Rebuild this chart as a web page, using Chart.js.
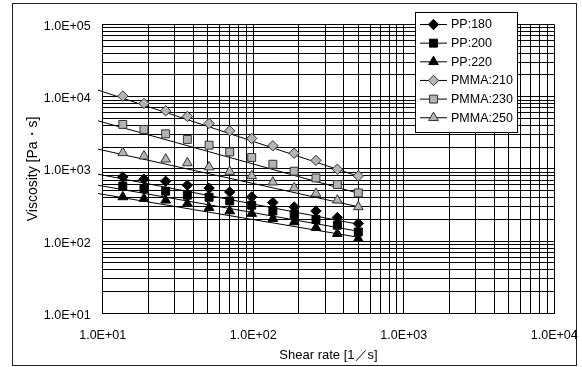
<!DOCTYPE html>
<html>
<head>
<meta charset="utf-8">
<script src="https://cdn.jsdelivr.net/npm/chart.js@4.4.1/dist/chart.umd.min.js"></script>
<style>
  html, body { margin: 0; padding: 0; background: #fff; }
</style>
</head>
<body>
<canvas id="chart" width="582" height="367"></canvas>
<script>
// shear rate [1/s] (same for all runs)
const shearRate = [13.6, 18.8, 26.2, 36.5, 50.9, 69.8, 97.7, 135, 187, 261, 362, 499];

// viscosity [Pa·s]
const pp180   = [774, 720, 675, 594, 540, 480, 409, 342, 297, 261, 212, 175];
const pp200   = [581, 535, 491, 432, 405, 360, 314, 261, 235, 199, 166, 134];
const pp220   = [409, 388, 368, 331, 290, 261, 241, 205, 184, 154, 127, 108];
const pmma210 = [10200, 8070, 6370, 5330, 4260, 3370, 2640, 2090, 1650, 1310, 990, 800];
const pmma230 = [4130, 3520, 3060, 2560, 2130, 1720, 1440, 1160, 929, 750, 608, 465];
const pmma250 = [1670, 1500, 1360, 1210, 1060, 921, 800, 654, 545, 456, 368, 298];

// trend lines (power fit), start and end
const trendX       = [9.31, 499];
const trendPP180   = [845, 171];
const trendPP200   = [594, 137];
const trendPP220   = [456, 113];
const trendPMMA210 = [12350, 792];
const trendPMMA230 = [4630, 460];
const trendPMMA250 = [1877, 299];

const seriesNames = ['PP:180', 'PP:200', 'PP:220', 'PMMA:210', 'PMMA:230', 'PMMA:250'];

// gridlines at 1..9 x 10^n
const yDecades = [10, 100, 1000, 10000];
const xDecades = [10, 100, 1000];
const multipliers = [1, 2, 3, 4, 5, 6, 7, 8, 9];
const yTicks = yDecades.flatMap(d => multipliers.map(m => m * d)).concat([100000]);
const xTicks = xDecades.flatMap(d => multipliers.map(m => m * d)).concat([10000]);

const FONT = "'Liberation Sans', Arial, sans-serif";
const GRAY = '#b4b4b4';

const styles = [
  { pointStyle: 'rectRot',  radius: 5.2, bg: '#000', border: '#000' },
  { pointStyle: 'rect',     radius: 5.6, bg: '#000', border: '#000' },
  { pointStyle: 'triangle', radius: 5.6, bg: '#000', border: '#000' },
  { pointStyle: 'rectRot',  radius: 5.2, bg: GRAY,   border: '#333' },
  { pointStyle: 'rect',     radius: 5.6, bg: GRAY,   border: '#333' },
  { pointStyle: 'triangle', radius: 5.6, bg: GRAY,   border: '#333' },
];

const values = [pp180, pp200, pp220, pmma210, pmma230, pmma250];
const trends = [trendPP180, trendPP200, trendPP220, trendPMMA210, trendPMMA230, trendPMMA250];

const datasets = [];
values.forEach((v, i) => {
  const s = styles[i];
  datasets.push({
    label: seriesNames[i],
    data: shearRate.map((x, k) => ({ x: x, y: v[k] })),
    showLine: false,
    pointStyle: s.pointStyle,
    pointRadius: s.radius,
    pointBackgroundColor: s.bg,
    pointBorderColor: s.border,
    pointBorderWidth: 1,
    order: 0
  });
});
trends.forEach((t, i) => {
  datasets.push({
    label: seriesNames[i] + ' trend',
    data: trendX.map((x, k) => ({ x: x, y: t[k] })),
    showLine: true,
    borderColor: '#000',
    borderWidth: 1,
    pointRadius: 0,
    clip: false,
    order: 1
  });
});

function sciLabel(v) {
  const e = Math.log10(v);
  const r = Math.round(e);
  if (Math.abs(e - r) > 1e-9) return '';
  return '1.0E+' + String(r).padStart(2, '0');
}

function markerPath(ctx, style, r, x, y) {
  ctx.beginPath();
  if (style === 'rectRot') {
    ctx.moveTo(x, y - r); ctx.lineTo(x + r, y); ctx.lineTo(x, y + r); ctx.lineTo(x - r, y);
  } else if (style === 'rect') {
    const s = Math.SQRT1_2 * r;
    ctx.rect(x - s, y - s, 2 * s, 2 * s);
  } else {
    const h = r * Math.sqrt(3) / 2;
    ctx.moveTo(x, y - r); ctx.lineTo(x + h, y + r / 2); ctx.lineTo(x - h, y + r / 2);
  }
  ctx.closePath();
}

const framePlugin = {
  id: 'frame',
  beforeDraw(chart) {
    const ctx = chart.ctx;
    ctx.save();
    ctx.fillStyle = '#fff';
    ctx.fillRect(0, 0, chart.width, chart.height);
    ctx.strokeStyle = '#222';
    ctx.lineWidth = 1;
    ctx.strokeRect(12.5, 3.5, 564, 362);
    ctx.restore();
  },
  afterDraw(chart) {
    const ctx = chart.ctx;
    ctx.save();
    ctx.fillStyle = '#fff';
    ctx.fillRect(415.5, 12.5, 102, 120);
    ctx.strokeStyle = '#000';
    ctx.lineWidth = 1;
    ctx.strokeRect(415.5, 12.5, 102, 120);
    ctx.font = '12.5px ' + FONT;
    ctx.textBaseline = 'middle';
    seriesNames.forEach((name, i) => {
      const y = 24.5 + i * 18.65;
      const s = styles[i];
      ctx.strokeStyle = '#000';
      ctx.beginPath();
      ctx.moveTo(420, y); ctx.lineTo(447, y);
      ctx.stroke();
      markerPath(ctx, s.pointStyle, s.radius, 433.5, y);
      ctx.fillStyle = s.bg;
      ctx.fill();
      ctx.strokeStyle = s.border;
      ctx.stroke();
      ctx.fillStyle = '#000';
      ctx.fillText(name, 451, y + 0.5);
    });
    ctx.restore();
  }
};

new Chart(document.getElementById('chart'), {
  type: 'scatter',
  data: { datasets: datasets },
  plugins: [framePlugin],
  options: {
    responsive: false,
    animation: false,
    layout: { padding: { left: 0, right: 27.7, top: 24.5, bottom: 0 } },
    plugins: { legend: { display: false }, tooltip: { enabled: false } },
    scales: {
      x: {
        type: 'logarithmic',
        min: 10, max: 10000,
        afterBuildTicks: s => { s.ticks = xTicks.map(v => ({ value: v })); },
        afterFit: s => { s.height = 53.7; s.paddingLeft = 0; s.paddingRight = 0; },
        grid: { color: '#000', lineWidth: 1, drawTicks: false },
        border: { display: true, color: '#000', width: 1 },
        ticks: {
          autoSkip: false, maxRotation: 0, padding: 15,
          color: '#000', font: { family: FONT, size: 12.5 },
          callback: v => sciLabel(v)
        },
        title: {
          display: true, text: 'Shear rate [1／s]', color: '#000',
          font: { family: FONT, size: 13 }, padding: { top: 0, bottom: 4 }
        }
      },
      y: {
        type: 'logarithmic',
        min: 10, max: 100000,
        afterBuildTicks: s => { s.ticks = yTicks.map(v => ({ value: v })); },
        afterFit: s => { s.width = 102.7; s.paddingTop = 0; s.paddingBottom = 0; },
        grid: { color: '#000', lineWidth: 1, drawTicks: false },
        border: { display: true, color: '#000', width: 1 },
        ticks: {
          autoSkip: false, padding: 12, labelOffset: 2,
          color: '#000', font: { family: FONT, size: 12.5 },
          callback: v => sciLabel(v)
        },
        title: {
          display: true, text: 'Viscosity [Pa・s]', color: '#000',
          font: { family: FONT, size: 14 }, padding: { top: 25, bottom: 0 }
        }
      }
    }
  }
});
</script>
</body>
</html>
